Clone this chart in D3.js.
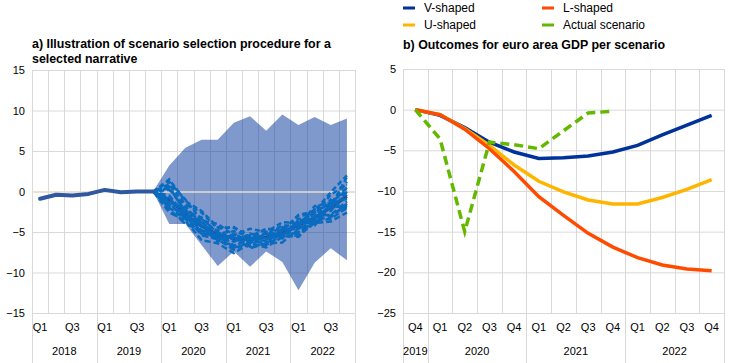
<!DOCTYPE html>
<html>
<head>
<meta charset="utf-8">
<script src="https://cdn.jsdelivr.net/npm/d3@7"></script>
<style>
  body { margin: 0; background: #fff; }
  svg { font-family: "Liberation Sans", Arial, sans-serif; }
</style>
</head>
<body>
<svg width="744" height="363"></svg>
<script>
// ---- data: panel a ----
var leftQuarters = ["Q1","Q2","Q3","Q4","Q1","Q2","Q3","Q4","Q1","Q2","Q3","Q4",
                    "Q1","Q2","Q3","Q4","Q1","Q2","Q3","Q4"];
var leftYears = ["2018","2019","2020","2021","2022"];
// 2018Q1 - 2019Q4
var historyValues = [-0.9, -0.4, -0.5, -0.3, 0.2, -0.1, 0.0, 0.0];
// 2019Q4 - 2022Q4
var bandUpper = [0, 3.2, 5.4, 6.4, 6.4, 8.5, 9.3, 7.5, 9.5, 8.2, 9.2, 8.2, 9.0];
var bandLower = [0, -4.0, -4.0, -6.6, -9.2, -7.4, -9.3, -7.4, -8.7, -12.2, -8.8, -7.0, -8.5];
var medianPath = [0, -1.0, -2.8, -4.3, -5.3, -5.8, -5.9, -5.6, -5.1, -4.2, -3.2, -2.0, -0.6];
var simPath1 = [0, 1.2, -1.0, -3.6, -4.0, -5.4, -4.6, -5.0, -3.8, -3.9, -2.2, -1.8, 1.8];
var simPath2 = [0, -0.5, -2.9, -3.6, -6.0, -5.7, -6.4, -5.0, -5.4, -3.6, -3.6, -1.6, 0.5];
var simPath3 = [0, -1.8, -3.0, -5.4, -5.9, -7.2, -6.1, -6.4, -5.2, -5.2, -3.5, -3.2, -1.5];
var simPath4 = [0, 0.4, -2.4, -3.2, -5.2, -4.9, -5.6, -4.6, -4.8, -3.0, -2.8, -0.4, 0.9];
var simPath5 = [0, -2.6, -3.6, -6.0, -6.4, -7.6, -6.4, -6.9, -5.6, -5.4, -3.9, -3.7, -2.6];
var simPath6 = [0, -1.0, -3.2, -4.2, -5.6, -5.5, -6.8, -5.0, -5.6, -4.0, -3.4, -1.9, -0.4];
var simPath7 = [0, 0.9, -1.6, -2.6, -4.6, -4.4, -5.6, -5.2, -4.2, -4.2, -2.4, -1.6, 1.2];
var simPath8 = [0, -2.0, -3.4, -5.2, -5.4, -6.9, -6.6, -6.6, -5.4, -5.6, -3.6, -3.4, -2.0];
var simPath9 = [0, -1.4, -3.4, -3.8, -6.0, -5.4, -6.0, -5.6, -5.4, -3.8, -4.0, -1.4, -0.9];
var simPath10 = [0, 0.2, -1.8, -4.2, -4.8, -6.0, -5.8, -5.4, -4.4, -4.3, -1.8, -1.4, 0.2];
var simPath11 = [0, -0.8, -2.8, -4.8, -5.6, -7.0, -5.4, -6.2, -5.0, -5.0, -3.0, -2.9, -1.2];
var simPath12 = [0, -2.2, -4.0, -4.8, -5.8, -5.6, -7.0, -6.4, -6.3, -4.5, -4.2, -1.8, -2.0];
var simPath13 = [0, 1.5, -1.2, -2.4, -4.4, -4.5, -5.6, -4.6, -4.8, -2.9, -2.4, -0.1, 2.0];
var simPath14 = [0, -1.2, -2.2, -5.2, -5.0, -6.7, -5.8, -6.0, -4.8, -4.6, -2.6, -3.0, -1.7];
var simPath15 = [0, 0.6, -2.6, -3.4, -5.0, -6.2, -5.2, -5.8, -4.6, -4.6, -2.6, -2.4, 0.0];
var simPath16 = [0, -1.6, -2.0, -4.4, -6.2, -5.2, -6.2, -5.2, -5.8, -3.4, -3.2, -1.0, -2.4];
var leftTicks = [15, 10, 5, 0, -5, -10, -15];

// ---- data: panel b ----
var rightQuarters = ["Q4","Q1","Q2","Q3","Q4","Q1","Q2","Q3","Q4","Q1","Q2","Q3","Q4"];
var rightYears = ["2019","2020","2021","2022"];
var vShaped = [0, -0.7, -2.2, -4.0, -5.2, -6.0, -5.9, -5.7, -5.2, -4.4, -3.1, -1.9, -0.7];
var lShaped = [0, -0.6, -2.4, -4.8, -7.6, -10.7, -13.0, -15.2, -16.9, -18.2, -19.1, -19.6, -19.8];
var uShaped = [0, -0.6, -2.3, -4.4, -6.8, -8.8, -10.1, -11.1, -11.6, -11.6, -10.8, -9.8, -8.6];
var actualScenario = [0, -3.6, -15.0, -4.0, -4.3, -4.8, -2.6, -0.4, -0.2];
var rightTicks = [5, 0, -5, -10, -15, -20, -25];

var svg = d3.select("svg");
var gridColor = "#d9d9d9";

// draws grid, tick labels and two-level category axis, returns scales
function drawFrame(opts) {
    var x = d3.scaleBand()
        .domain(d3.range(opts.quarters.length))
        .range([opts.left, opts.right])
        .padding(0);
    var y = d3.scaleLinear()
        .domain([opts.ymin, opts.ymax])
        .range([opts.bottom, opts.top]);
    var g = svg.append("g");

    // horizontal grid
    g.append("g")
        .selectAll("line")
        .data(opts.ticks)
        .join("line")
        .attr("x1", opts.left).attr("x2", opts.right)
        .attr("y1", function (d) { return y(d) + 0.5; })
        .attr("y2", function (d) { return y(d) + 0.5; })
        .attr("stroke", gridColor);

    // vertical grid at category boundaries
    var bounds = d3.range(opts.quarters.length + 1);
    g.append("g")
        .selectAll("line")
        .data(bounds)
        .join("line")
        .attr("x1", function (i) { return Math.round(opts.left + i * x.bandwidth()) + 0.5; })
        .attr("x2", function (i) { return Math.round(opts.left + i * x.bandwidth()) + 0.5; })
        .attr("y1", opts.top)
        .attr("y2", function (i) { return opts.yearBreaks.indexOf(i) >= 0 ? 363 : opts.bottom; })
        .attr("stroke", gridColor);

    // y labels
    var yAxis = d3.axisLeft(y).tickValues(opts.ticks).tickSize(0).tickPadding(0);
    g.append("g")
        .attr("transform", "translate(" + (opts.left - 7) + ",0)")
        .call(yAxis)
        .call(function (s) { s.select(".domain").remove(); })
        .selectAll("text")
        .attr("font-size", 11)
        .attr("fill", "#000")
        .attr("font-family", "Liberation Sans, Arial, sans-serif");

    // quarter labels
    var xAxis = d3.axisBottom(x).tickSize(0).tickPadding(0)
        .tickFormat(function (i) { return opts.showQuarter(i) ? opts.quarters[i] : ""; });
    g.append("g")
        .attr("transform", "translate(0," + (opts.bottom + 10) + ")")
        .call(xAxis)
        .call(function (s) { s.select(".domain").remove(); })
        .selectAll("text")
        .attr("font-size", 11)
        .attr("fill", "#000")
        .attr("font-family", "Liberation Sans, Arial, sans-serif");

    // year labels
    g.append("g")
        .selectAll("text")
        .data(opts.years)
        .join("text")
        .attr("x", function (d, k) {
            var a = opts.left + opts.yearBreaks[k] * x.bandwidth();
            var b = opts.left + opts.yearBreaks[k + 1] * x.bandwidth();
            return (a + b) / 2;
        })
        .attr("y", opts.bottom + 42)
        .attr("text-anchor", "middle")
        .attr("font-size", 11)
        .attr("fill", "#000")
        .text(function (d) { return d; });

    return { x: x, y: y, cx: function (i) { return x(i) + x.bandwidth() / 2; } };
}

// ---------- panel a ----------
var a = drawFrame({
    left: 32, right: 355, top: 70, bottom: 313,
    ymin: -15, ymax: 15, ticks: leftTicks,
    quarters: leftQuarters, years: leftYears,
    yearBreaks: [0, 4, 8, 12, 16, 20],
    showQuarter: function (i) { return i % 2 === 0; }
});

var offset = 7; // band and paths start at 2019Q4
var band = d3.area()
    .x(function (d, i) { return a.cx(i + offset); })
    .y0(function (d, i) { return a.y(bandLower[i]); })
    .y1(function (d) { return a.y(d); });
svg.append("path")
    .attr("d", band(bandUpper))
    .attr("fill", "#003399")
    .attr("fill-opacity", 0.5);

svg.append("line")
    .attr("x1", 32).attr("x2", 355)
    .attr("y1", a.y(0) + 0.5).attr("y2", a.y(0) + 0.5)
    .attr("stroke", "#eadfce")
    .attr("stroke-width", 1.5);

var pathLine = d3.line()
    .x(function (d, i) { return a.cx(i + offset); })
    .y(function (d) { return a.y(d); });

svg.append("path")
    .attr("d", pathLine(medianPath))
    .attr("fill", "none")
    .attr("stroke", "#34408f")
    .attr("stroke-width", 3);

var simPaths = [simPath1, simPath2, simPath3, simPath4, simPath5, simPath6, simPath7, simPath8,
                simPath9, simPath10, simPath11, simPath12, simPath13, simPath14, simPath15, simPath16];
svg.append("g")
    .selectAll("path")
    .data(simPaths)
    .join("path")
    .attr("d", pathLine)
    .attr("fill", "none")
    .attr("stroke", "#0a6cc0")
    .attr("stroke-width", 2.5)
    .attr("stroke-dasharray", function (d, k) { return (5 + k % 3) + ",3"; })
    .attr("stroke-dashoffset", function (d, k) { return k * 2; });

var histLine = d3.line()
    .x(function (d, i) { return a.cx(i); })
    .y(function (d) { return a.y(d); });
svg.append("path")
    .attr("d", histLine(historyValues))
    .attr("fill", "none")
    .attr("stroke", "#2f58a0")
    .attr("stroke-width", 4)
    .attr("stroke-linejoin", "round")
    .attr("stroke-linecap", "round");

svg.append("text")
    .attr("x", 32).attr("y", 48)
    .attr("font-size", 12.4).attr("font-weight", "bold")
    .text("a) Illustration of scenario selection procedure for a");
svg.append("text")
    .attr("x", 32).attr("y", 63)
    .attr("font-size", 12.4).attr("font-weight", "bold")
    .text("selected narrative");

// ---------- panel b ----------
var b = drawFrame({
    left: 403, right: 724, top: 69, bottom: 313,
    ymin: -25, ymax: 5, ticks: rightTicks,
    quarters: rightQuarters, years: rightYears,
    yearBreaks: [0, 1, 5, 9, 13],
    showQuarter: function () { return true; }
});

var bLine = d3.line()
    .x(function (d, i) { return b.cx(i); })
    .y(function (d) { return b.y(d); });

var series = [
    { name: "V-shaped", values: vShaped, color: "#003299", dash: null },
    { name: "U-shaped", values: uShaped, color: "#ffb400", dash: null },
    { name: "L-shaped", values: lShaped, color: "#ff4b00", dash: null },
    { name: "Actual scenario", values: actualScenario, color: "#65b800", dash: "9,5" }
];

svg.append("g")
    .selectAll("path")
    .data(series)
    .join("path")
    .attr("d", function (d) { return bLine(d.values); })
    .attr("fill", "none")
    .attr("stroke", function (d) { return d.color; })
    .attr("stroke-width", 3.5)
    .attr("stroke-dasharray", function (d) { return d.dash; });

svg.append("text")
    .attr("x", 403).attr("y", 49)
    .attr("font-size", 12.4).attr("font-weight", "bold")
    .text("b) Outcomes for euro area GDP per scenario");

// legend
var legendItems = [
    { name: "V-shaped", color: "#003299", x: 403, y: 8 },
    { name: "L-shaped", color: "#ff4b00", x: 542, y: 8 },
    { name: "U-shaped", color: "#ffb400", x: 403, y: 25 },
    { name: "Actual scenario", color: "#65b800", x: 542, y: 25 }
];
var lg = svg.append("g").selectAll("g").data(legendItems).join("g")
    .attr("transform", function (d) { return "translate(" + d.x + "," + d.y + ")"; });
lg.append("rect")
    .attr("x", 0).attr("y", -1.5).attr("width", 12).attr("height", 3)
    .attr("fill", function (d) { return d.color; });
lg.append("text")
    .attr("x", 21).attr("y", 4)
    .attr("font-size", 12)
    .text(function (d) { return d.name; });
</script>
</body>
</html>
